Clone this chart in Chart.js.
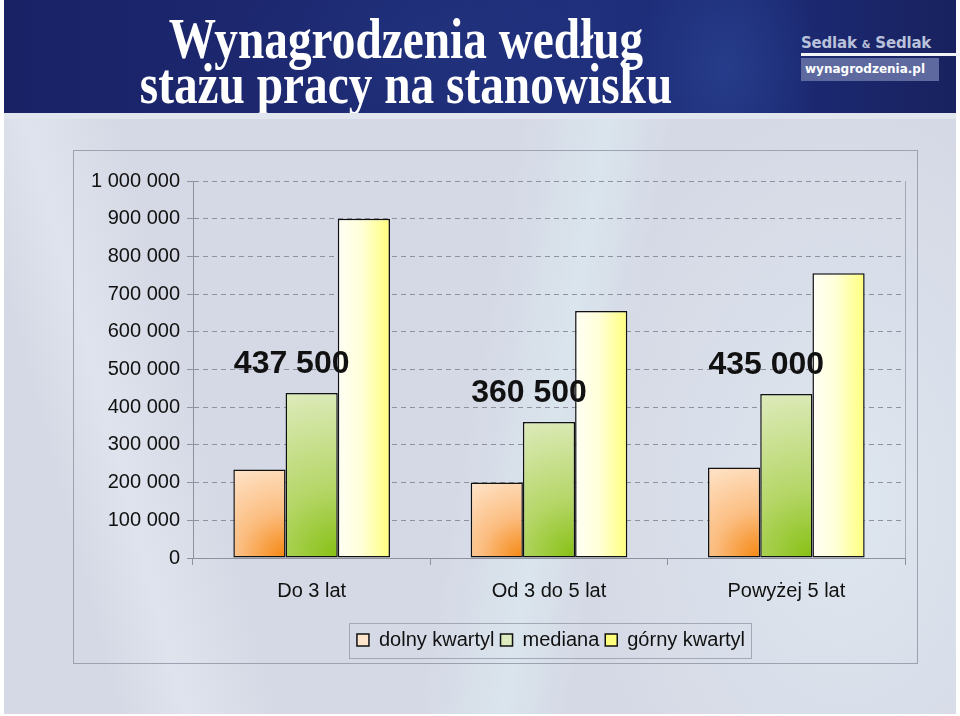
<!DOCTYPE html>
<html>
<head>
<meta charset="utf-8">
<script src="https://cdn.jsdelivr.net/npm/chart.js@4"></script>
<style>
  html, body { margin: 0; padding: 0; background: #fff; }
  body { width: 960px; height: 716px; position: relative; overflow: hidden; font-family: 'Liberation Sans', Arial, sans-serif; }
  #page {
    position: absolute; left: 4px; top: 0; width: 952px; height: 714px;
    background:
      linear-gradient(100deg, rgba(255,255,255,0) 50%, rgba(222,238,244,0.55) 58%, rgba(255,255,255,0) 64%),
      linear-gradient(75deg, rgba(255,255,255,0) 10%, rgba(228,234,242,0.6) 16%, rgba(255,255,255,0) 24%),
      radial-gradient(ellipse 260px 400px at 88% 70%, rgba(226,236,244,0.7), rgba(255,255,255,0)),
      #d5d9e5;
  }
  #header {
    position: absolute; left: 4px; top: 0; width: 952px; height: 113px;
    background:
      radial-gradient(ellipse 90px 130px at 76% 60%, rgba(60,100,185,0.3), rgba(0,0,0,0)),
      radial-gradient(ellipse 200px 120px at 45% 40%, rgba(45,70,150,0.22), rgba(0,0,0,0)),
      linear-gradient(90deg, #1a2266 0%, #1d2a73 40%, #1f2f7b 62%, #1c2a74 82%, #19225f 100%);
  }
  .title {
    position: absolute; left: 0; width: 804px; text-align: center;
    font-family: 'Liberation Serif', 'Times New Roman', serif; font-weight: bold;
    font-size: 56px; line-height: 56px; color: #fff;
    transform: scaleX(0.845); transform-origin: 402px 0;
    white-space: nowrap;
  }
  #logo1 {
    position: absolute; left: 797px; top: 34px; font-family: 'DejaVu Sans', sans-serif; font-weight: bold; font-size: 15px;
    color: #b9c2da; white-space: nowrap; letter-spacing: -0.2px;
  }
  #logo1 span { font-size: 10px; }
  #logoLine { position: absolute; left: 797px; top: 53px; width: 159px; height: 3px; background: #f2f4f8; }
  #logo2 {
    position: absolute; left: 797px; top: 58px; width: 138px; height: 23px;
    background: #5e6a9f; color: #fff; font-family: 'DejaVu Sans', sans-serif; font-weight: bold; font-size: 12px; line-height: 22px;
    white-space: nowrap; padding-left: 4px; box-sizing: border-box;
  }
  #strip { position: absolute; left: 4px; top: 113px; width: 952px; height: 6px; background: #e1e5ee; }
  #frame {
    position: absolute; left: 73px; top: 150px; width: 843px; height: 512px;
    border: 1px solid #9ca2b2;
  }
  #chart { position: absolute; left: 73px; top: 150px; }
</style>
</head>
<body>
<div id="page"></div>
<div id="header">
  <div class="title" style="top:11px">Wynagrodzenia według</div>
  <div class="title" style="top:56px">stażu pracy na stanowisku</div>
  <div id="logo1">Sedlak <span>&amp;</span> Sedlak</div>
  <div id="logoLine"></div>
  <div id="logo2">wynagrodzenia.pl</div>
</div>
<div id="strip"></div>
<div id="frame"></div>
<canvas id="chart" width="844" height="513"></canvas>
<script>
const categories = ['Do 3 lat', 'Od 3 do 5 lat', 'Powyżej 5 lat'];
const seriesNames = ['dolny kwartyl', 'mediana', 'górny kwartyl'];
const lowerQuartile = [235000, 200000, 240000];
const median = [437500, 360500, 435000];
const upperQuartile = [900000, 655000, 755000];
const yMax = 1000000;
const yStep = 100000;

const CAT_PCT = 0.66;
const flatColors = ['#f8ab62', '#add255', '#ffffc4'];

function fmt(v) {
  return String(v).replace(/\B(?=(\d{3})+(?!\d))/g, ' ');
}

function barFill(kind) {
  return ctx => {
    const chart = ctx.chart;
    const area = chart.chartArea;
    if (!area || ctx.dataIndex === undefined || !chart.scales.x) return flatColors[kind];
    const xs = chart.scales.x, ys = chart.scales.y;
    const catW = (area.right - area.left) / categories.length;
    const groupW = catW * CAT_PCT;
    const barW = groupW / 3;
    const left = xs.getPixelForValue(ctx.dataIndex) - groupW / 2 + ctx.datasetIndex * barW;
    const right = left + barW;
    const top = ys.getPixelForValue(ctx.raw);
    const base = ys.getPixelForValue(0);
    const c = chart.ctx;
    if (kind === 2) {
      const g = c.createLinearGradient(left, 0, right, 0);
      g.addColorStop(0, '#fffff6');
      g.addColorStop(0.45, '#ffffd8');
      g.addColorStop(1, '#ffff7c');
      return g;
    }
    const r = Math.hypot(right - left, base - top);
    const g = c.createRadialGradient(right, base, 0, right, base, r);
    if (kind === 0) {
      g.addColorStop(0, '#f5860f');
      g.addColorStop(0.45, '#fbbd80');
      g.addColorStop(1, '#ffe5cb');
    } else {
      g.addColorStop(0, '#86c013');
      g.addColorStop(0.4, '#b5d667');
      g.addColorStop(1, '#deebbc');
    }
    return g;
  };
}

const extras = {
  id: 'extras',
  afterLayout(chart) {
    // legend sits under the plot area, not under the whole canvas
    const lg = chart.legend;
    const a = chart.chartArea;
    const d = (a.left + a.right) / 2 - (lg.left + lg.right) / 2 + 2;
    lg.left += d;
    lg.right += d;
  },
  afterDatasetsDraw(chart) {
    const c = chart.ctx;
    const meta = chart.getDatasetMeta(1);
    c.save();
    c.font = 'bold 32px "Liberation Sans", Arial, sans-serif';
    c.fillStyle = '#111';
    c.textAlign = 'center';
    c.textBaseline = 'middle';
    meta.data.forEach((el, i) => {
      c.fillText(fmt(median[i]), el.x - 20, el.y - 29);
    });
    c.restore();
  },
  afterDraw(chart) {
    const c = chart.ctx;
    const a = chart.chartArea;
    c.save();
    c.strokeStyle = '#a3a8b6';
    c.lineWidth = 1;
    c.beginPath();
    c.moveTo(Math.round(a.right) + 0.5, a.top);
    c.lineTo(Math.round(a.right) + 0.5, a.bottom);
    c.stroke();
    const lg = chart.legend;
    const hb = lg.legendHitBoxes;
    if (hb && hb.length) {
      const l = Math.min(...hb.map(h => h.left)) - 8;
      const r = Math.max(...hb.map(h => h.left + h.width)) + 6;
      const cy = hb[0].top + hb[0].height / 2;
      c.strokeStyle = '#a3a8b6';
      c.strokeRect(Math.round(l) + 0.5, Math.round(cy - 17.5) + 0.5, Math.round(r - l), 35);
    }
    c.restore();
  }
};

const seriesData = [lowerQuartile, median, upperQuartile];

new Chart(document.getElementById('chart').getContext('2d'), {
  type: 'bar',
  data: {
    labels: categories,
    datasets: seriesData.map((d, k) => ({
      label: seriesNames[k],
      data: d,
      backgroundColor: barFill(k),
      borderColor: '#111',
      borderWidth: 1.5,
      borderSkipped: false,
      barPercentage: 1,
      categoryPercentage: CAT_PCT
    }))
  },
  options: {
    responsive: false,
    animation: false,
    layout: { padding: { top: 31, right: 12, left: 0, bottom: 3 } },
    plugins: {
      tooltip: { enabled: false },
      legend: {
        position: 'bottom',
        labels: {
          boxWidth: 12,
          boxHeight: 12,
          padding: 6,
          color: '#111',
          font: { family: '"Liberation Sans", Arial, sans-serif', size: 20 }
        }
      }
    },
    scales: {
      x: {
        grid: {
          display: true,
          drawOnChartArea: false,
          drawTicks: true,
          tickLength: 7,
          color: '#8d929e',
          offset: true
        },
        border: { color: '#8d929e', width: 1 },
        ticks: {
          color: '#111',
          padding: 14,
          font: { family: '"Liberation Sans", Arial, sans-serif', size: 20 }
        },
        afterFit(scale) { scale.height = 66; }
      },
      y: {
        min: 0,
        max: yMax,
        grid: {
          color: '#8d929e',
          lineWidth: 1,
          tickLength: 6,
          tickColor: '#8d929e',
          tickBorderDash: []
        },
        border: { color: '#8d929e', width: 1, dash: [5, 4] },
        ticks: {
          stepSize: yStep,
          color: '#111',
          padding: 7,
          font: { family: '"Liberation Sans", Arial, sans-serif', size: 20 },
          callback: v => fmt(v)
        },
        afterFit(scale) { scale.width = 120; }
      }
    }
  },
  plugins: [extras]
});
</script>
</body>
</html>
